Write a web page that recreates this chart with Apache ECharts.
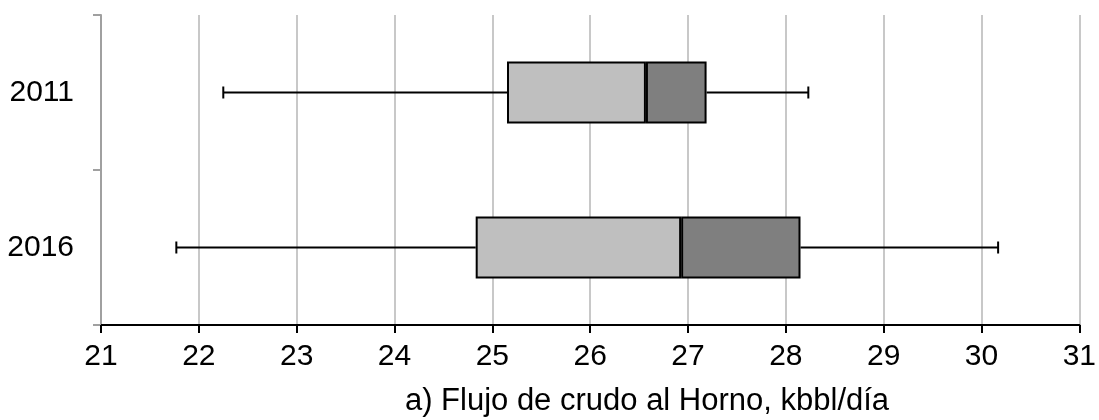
<!DOCTYPE html>
<html>
<head>
<meta charset="utf-8">
<style>
  html, body { margin: 0; padding: 0; background: #fff; }
  #chart { width: 1099px; height: 420px; }
</style>
<script src="https://cdn.jsdelivr.net/npm/echarts@6/dist/echarts.min.js"></script>
</head>
<body>
<div id="chart"></div>
<script>
// datos
var categories = ['2011', '2016'];
var minVals = [22.25, 21.77];
var q1Vals = [25.15, 24.83];
var medVals = [26.57, 26.93];
var q3Vals = [27.19, 28.15];
var maxVals = [28.23, 30.17];
var axisMin = 21, axisMax = 31, axisStep = 1;
var titleText = 'a) Flujo de crudo al Horno, kbbl/día';

var FONT = '"Liberation Sans", Arial, sans-serif';

var myChart = echarts.init(document.getElementById('chart'));

var lowPart = [], darkPart = [], whiskers = [];
categories.map(function(c, i){
    lowPart.push( +(medVals[i] - q1Vals[i]).toFixed(4) );
    darkPart.push( +(q3Vals[i] - medVals[i]).toFixed(4) );
    whiskers.push([ i, minVals[i], q1Vals[i], q3Vals[i], maxVals[i] ]);
});

// bigotes: linea min->Q1, Q3->max y remates
var renderWhisker = function(params, api){
    var idx = api.value(0);
    var pMin = api.coord([api.value(1), idx]);
    var pQ1 = api.coord([api.value(2), idx]);
    var pQ3 = api.coord([api.value(3), idx]);
    var pMax = api.coord([api.value(4), idx]);
    var cap = 6;
    var st = { stroke: '#000', lineWidth: 2 };
    return {
        type: 'group',
        children: [
            { type: 'line', shape: { x1: pMin[0], y1: pMin[1], x2: pQ1[0], y2: pQ1[1] }, style: st },
            { type: 'line', shape: { x1: pQ3[0], y1: pQ3[1], x2: pMax[0], y2: pMax[1] }, style: st },
            { type: 'line', shape: { x1: pMin[0], y1: pMin[1] - cap, x2: pMin[0], y2: pMin[1] + cap }, style: st },
            { type: 'line', shape: { x1: pMax[0], y1: pMax[1] - cap, x2: pMax[0], y2: pMax[1] + cap }, style: st }
        ]
    };
};

var option = {
    animation: false,
    backgroundColor: '#fff',
    textStyle: { fontFamily: FONT },
    grid: { left: 101, right: 18, top: 15, bottom: 95, containLabel: false },
    xAxis: {
        type: 'value',
        min: axisMin,
        max: axisMax,
        interval: axisStep,
        axisLine: { show: true, lineStyle: { color: '#000', width: 2 } },
        axisTick: { show: true, length: 8, lineStyle: { color: '#000', width: 2 } },
        axisLabel: { color: '#000', fontSize: 30, margin: 17, fontFamily: FONT },
        splitLine: { show: true, lineStyle: { color: '#c8c8c8', width: 2 } }
    },
    yAxis: {
        type: 'category',
        data: categories,
        inverse: true,
        axisLine: { show: true, lineStyle: { color: '#a0a0a0', width: 2 } },
        axisTick: { show: true, length: 8, lineStyle: { color: '#a0a0a0', width: 2 } },
        axisLabel: { color: '#000', fontSize: 30, margin: 27, fontFamily: FONT },
        splitLine: { show: false }
    },
    graphic: [{
        type: 'text',
        x: 647,
        y: 401,
        style: {
            text: titleText,
            fill: '#000',
            font: '31px ' + FONT,
            textAlign: 'center',
            textVerticalAlign: 'middle'
        }
    }],
    series: [
        {
            name: 'base',
            type: 'bar',
            stack: 'box',
            barWidth: 62,
            silent: true,
            itemStyle: { color: 'transparent' },
            data: q1Vals
        },
        {
            name: 'Q1-Mediana',
            type: 'bar',
            stack: 'box',
            barWidth: 62,
            itemStyle: { color: '#bfbfbf', borderColor: '#000', borderWidth: 2 },
            data: lowPart
        },
        {
            name: 'Mediana-Q3',
            type: 'bar',
            stack: 'box',
            barWidth: 62,
            itemStyle: { color: '#7f7f7f', borderColor: '#000', borderWidth: 2 },
            data: darkPart
        },
        {
            name: 'bigotes',
            type: 'custom',
            renderItem: renderWhisker,
            encode: { x: [1, 2, 3, 4], y: 0 },
            z: 1,
            data: whiskers
        }
    ]
};

myChart.setOption(option);
</script>
</body>
</html>
